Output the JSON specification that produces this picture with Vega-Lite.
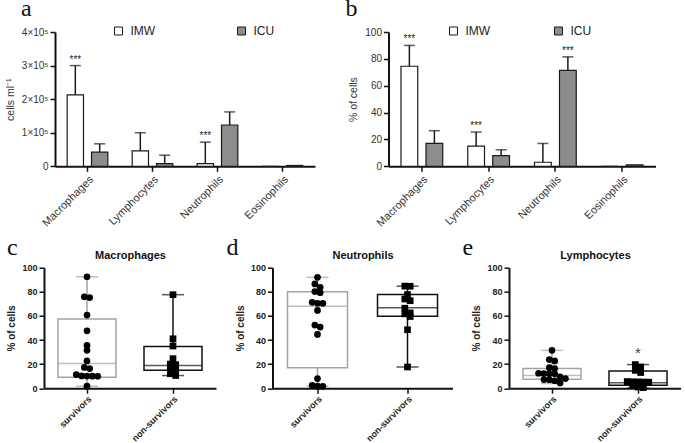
{
  "$schema": "https://vega.github.io/schema/vega-lite/v6.json",
  "background": "white",
  "padding": {"left": 5, "top": -3, "right": 0, "bottom": 0},
  "config": {
    "font": "Liberation Sans",
    "view": {"stroke": null},
    "axis": {"domainColor": "#111", "domainWidth": 2, "tickColor": "#111", "tickWidth": 1.5, "tickSize": 5, "labelColor": "#333", "titleColor": "#333", "grid": false, "labelFont": "Liberation Sans", "titleFont": "Liberation Sans", "labelOverlap": false, "labelBound": false},
    "title": {"font": "Liberation Serif", "fontSize": 24, "fontWeight": "normal", "color": "#111", "anchor": "start", "frame": "group", "offset": 0}
  },
  "datasets": {
    "counts": [
      {"cell": "Macrophages", "group": "IMW", "value": 213000, "err": 300000, "sig": "***"},
      {"cell": "Macrophages", "group": "ICU", "value": 42000, "err": 67000, "sig": ""},
      {"cell": "Lymphocytes", "group": "IMW", "value": 46000, "err": 100000, "sig": ""},
      {"cell": "Lymphocytes", "group": "ICU", "value": 8000, "err": 33000, "sig": ""},
      {"cell": "Neutrophils", "group": "IMW", "value": 8000, "err": 72000, "sig": "***"},
      {"cell": "Neutrophils", "group": "ICU", "value": 123000, "err": 162000, "sig": ""},
      {"cell": "Eosinophils", "group": "IMW", "value": 0, "err": null, "sig": ""},
      {"cell": "Eosinophils", "group": "ICU", "value": 2500, "err": null, "sig": ""}
    ],
    "pct": [
      {"cell": "Macrophages", "group": "IMW", "value": 74.5, "err": 90, "sig": "***"},
      {"cell": "Macrophages", "group": "ICU", "value": 17, "err": 26.5, "sig": ""},
      {"cell": "Lymphocytes", "group": "IMW", "value": 15, "err": 25.5, "sig": "***"},
      {"cell": "Lymphocytes", "group": "ICU", "value": 8, "err": 12.3, "sig": ""},
      {"cell": "Neutrophils", "group": "IMW", "value": 3, "err": 17, "sig": ""},
      {"cell": "Neutrophils", "group": "ICU", "value": 71.5, "err": 81.5, "sig": "***"},
      {"cell": "Eosinophils", "group": "IMW", "value": 0, "err": null, "sig": ""},
      {"cell": "Eosinophils", "group": "ICU", "value": 1, "err": null, "sig": ""}
    ],
    "box": [
      {"panel": "Macrophages", "group": "survivors", "min": 1.7, "q1": 9, "median": 20.5, "q3": 57.5, "max": 92.5, "sig": ""},
      {"panel": "Macrophages", "group": "non-survivors", "min": 10.5, "q1": 14.8, "median": 18.8, "q3": 34.7, "max": 77.6, "sig": ""},
      {"panel": "Neutrophils", "group": "survivors", "min": 1.7, "q1": 17, "median": 68, "q3": 80, "max": 92, "sig": ""},
      {"panel": "Neutrophils", "group": "non-survivors", "min": 17.6, "q1": 59.8, "median": 66.8, "q3": 77.8, "max": 84.7, "sig": ""},
      {"panel": "Lymphocytes", "group": "survivors", "min": 3.9, "q1": 7.4, "median": 10.5, "q3": 16.3, "max": 31.4, "sig": ""},
      {"panel": "Lymphocytes", "group": "non-survivors", "min": 0, "q1": 2.5, "median": 4.5, "q3": 14.3, "max": 19.6, "sig": "*"}
    ],
    "pts": [
      {"panel": "Macrophages", "group": "survivors", "value": 92.5},
      {"panel": "Macrophages", "group": "survivors", "value": 75.8},
      {"panel": "Macrophages", "group": "survivors", "value": 75.2},
      {"panel": "Macrophages", "group": "survivors", "value": 60.7},
      {"panel": "Macrophages", "group": "survivors", "value": 47.6},
      {"panel": "Macrophages", "group": "survivors", "value": 35.5},
      {"panel": "Macrophages", "group": "survivors", "value": 31.4},
      {"panel": "Macrophages", "group": "survivors", "value": 22.6},
      {"panel": "Macrophages", "group": "survivors", "value": 17.2},
      {"panel": "Macrophages", "group": "survivors", "value": 16.3},
      {"panel": "Macrophages", "group": "survivors", "value": 11.3},
      {"panel": "Macrophages", "group": "survivors", "value": 10.2},
      {"panel": "Macrophages", "group": "survivors", "value": 10.1},
      {"panel": "Macrophages", "group": "survivors", "value": 10},
      {"panel": "Macrophages", "group": "survivors", "value": 9.9},
      {"panel": "Macrophages", "group": "survivors", "value": 1.7},
      {"panel": "Macrophages", "group": "non-survivors", "value": 77.6},
      {"panel": "Macrophages", "group": "non-survivors", "value": 41},
      {"panel": "Macrophages", "group": "non-survivors", "value": 35},
      {"panel": "Macrophages", "group": "non-survivors", "value": 24.5},
      {"panel": "Macrophages", "group": "non-survivors", "value": 20},
      {"panel": "Macrophages", "group": "non-survivors", "value": 19.5},
      {"panel": "Macrophages", "group": "non-survivors", "value": 16},
      {"panel": "Macrophages", "group": "non-survivors", "value": 15.5},
      {"panel": "Macrophages", "group": "non-survivors", "value": 12},
      {"panel": "Macrophages", "group": "non-survivors", "value": 10.5},
      {"panel": "Neutrophils", "group": "survivors", "value": 92},
      {"panel": "Neutrophils", "group": "survivors", "value": 86.5},
      {"panel": "Neutrophils", "group": "survivors", "value": 83.7},
      {"panel": "Neutrophils", "group": "survivors", "value": 80.2},
      {"panel": "Neutrophils", "group": "survivors", "value": 79.3},
      {"panel": "Neutrophils", "group": "survivors", "value": 71.3},
      {"panel": "Neutrophils", "group": "survivors", "value": 70.5},
      {"panel": "Neutrophils", "group": "survivors", "value": 70.4},
      {"panel": "Neutrophils", "group": "survivors", "value": 64.5},
      {"panel": "Neutrophils", "group": "survivors", "value": 52.4},
      {"panel": "Neutrophils", "group": "survivors", "value": 50.7},
      {"panel": "Neutrophils", "group": "survivors", "value": 44.6},
      {"panel": "Neutrophils", "group": "survivors", "value": 8},
      {"panel": "Neutrophils", "group": "survivors", "value": 2.4},
      {"panel": "Neutrophils", "group": "survivors", "value": 1.7},
      {"panel": "Neutrophils", "group": "survivors", "value": 1.6},
      {"panel": "Neutrophils", "group": "non-survivors", "value": 84.7},
      {"panel": "Neutrophils", "group": "non-survivors", "value": 84.6},
      {"panel": "Neutrophils", "group": "non-survivors", "value": 77.7},
      {"panel": "Neutrophils", "group": "non-survivors", "value": 74},
      {"panel": "Neutrophils", "group": "non-survivors", "value": 72.6},
      {"panel": "Neutrophils", "group": "non-survivors", "value": 66.4},
      {"panel": "Neutrophils", "group": "non-survivors", "value": 62.5},
      {"panel": "Neutrophils", "group": "non-survivors", "value": 61.7},
      {"panel": "Neutrophils", "group": "non-survivors", "value": 59.5},
      {"panel": "Neutrophils", "group": "non-survivors", "value": 48.5},
      {"panel": "Neutrophils", "group": "non-survivors", "value": 17.6},
      {"panel": "Lymphocytes", "group": "survivors", "value": 31.4},
      {"panel": "Lymphocytes", "group": "survivors", "value": 23.8},
      {"panel": "Lymphocytes", "group": "survivors", "value": 22.6},
      {"panel": "Lymphocytes", "group": "survivors", "value": 17},
      {"panel": "Lymphocytes", "group": "survivors", "value": 16.3},
      {"panel": "Lymphocytes", "group": "survivors", "value": 12.4},
      {"panel": "Lymphocytes", "group": "survivors", "value": 12.1},
      {"panel": "Lymphocytes", "group": "survivors", "value": 12},
      {"panel": "Lymphocytes", "group": "survivors", "value": 11.9},
      {"panel": "Lymphocytes", "group": "survivors", "value": 9.4},
      {"panel": "Lymphocytes", "group": "survivors", "value": 8},
      {"panel": "Lymphocytes", "group": "survivors", "value": 7.2},
      {"panel": "Lymphocytes", "group": "survivors", "value": 7},
      {"panel": "Lymphocytes", "group": "survivors", "value": 6.2},
      {"panel": "Lymphocytes", "group": "survivors", "value": 4.4},
      {"panel": "Lymphocytes", "group": "non-survivors", "value": 19.6},
      {"panel": "Lymphocytes", "group": "non-survivors", "value": 17.6},
      {"panel": "Lymphocytes", "group": "non-survivors", "value": 14.8},
      {"panel": "Lymphocytes", "group": "non-survivors", "value": 13},
      {"panel": "Lymphocytes", "group": "non-survivors", "value": 5.5},
      {"panel": "Lymphocytes", "group": "non-survivors", "value": 5.3},
      {"panel": "Lymphocytes", "group": "non-survivors", "value": 5.2},
      {"panel": "Lymphocytes", "group": "non-survivors", "value": 5.1},
      {"panel": "Lymphocytes", "group": "non-survivors", "value": 5},
      {"panel": "Lymphocytes", "group": "non-survivors", "value": 2.4},
      {"panel": "Lymphocytes", "group": "non-survivors", "value": 1},
      {"panel": "Lymphocytes", "group": "non-survivors", "value": 0.5}
    ]
  },
  "bounds": "flush",
  "spacing": 235.7,
  "vconcat": [
    {
      "bounds": "flush",
      "spacing": 73.5,
      "resolve": {"scale": {"fill": "independent", "x": "independent", "y": "independent", "xOffset": "independent"}, "legend": {"fill": "independent"}},
      "hconcat": [
        {
          "width": 271,
          "height": 134.3,
          "title": {"text": "a", "dx": -23, "dy": 0},
          "data": {"name": "counts"},
          "layer": [
            {
              "mark": {"type": "bar", "stroke": "#1a1a1a", "strokeWidth": 1.2},
              "encoding": {
                "x": {"field": "cell", "type": "nominal", "sort": ["Macrophages", "Lymphocytes", "Neutrophils", "Eosinophils"], "scale": {"range": [11, 271], "paddingInner": 0, "paddingOuter": 0}, "axis": {"title": null, "labelAngle": -45, "labelFontSize": 11, "labelPadding": 2}},
                "xOffset": {"field": "group", "type": "nominal", "sort": ["IMW", "ICU"], "scale": {"paddingInner": 0.33, "paddingOuter": 0.5}},
                "y": {"field": "value", "type": "quantitative", "title": "cells ml⁻¹", "scale": {"domain": [0, 400000]}, "axis": {"values": [0, 100000, 200000, 300000, 400000], "tickCount": 20, "labelOverlap": false, "labelExpr": "datum.value == 0 ? '0' : format(datum.value/100000,'d') + '×10⁵'", "offset": -11, "titleFontSize": 10.5, "titleFontWeight": "normal", "labelFontSize": 10, "titlePadding": 6}},
                "fill": {"field": "group", "type": "nominal", "scale": {"domain": ["IMW", "ICU"], "range": ["#ffffff", "#8c8c8c"]}, "legend": {"orient": "none", "legendX": 68.5, "legendY": -7, "direction": "horizontal", "title": null, "symbolType": "square", "symbolSize": 64, "symbolStrokeColor": "#1a1a1a", "symbolStrokeWidth": 1, "labelFontSize": 12, "labelColor": "#222", "columnPadding": 80, "labelOffset": 6, "padding": 0}}
              }
            },
            {
              "transform": [{"filter": "isValid(datum.err)"}],
              "mark": {"type": "rule", "color": "#1a1a1a", "strokeWidth": 1.5},
              "encoding": {
                "x": {"field": "cell", "type": "nominal", "sort": ["Macrophages", "Lymphocytes", "Neutrophils", "Eosinophils"]},
                "xOffset": {"field": "group", "type": "nominal", "sort": ["IMW", "ICU"]},
                "y": {"field": "value", "type": "quantitative", "title": "cells ml⁻¹"},
                "y2": {"field": "err"}
              }
            },
            {
              "transform": [{"filter": "isValid(datum.err)"}],
              "mark": {"type": "tick", "color": "#1a1a1a", "thickness": 1.5, "size": 11},
              "encoding": {
                "x": {"field": "cell", "type": "nominal", "sort": ["Macrophages", "Lymphocytes", "Neutrophils", "Eosinophils"]},
                "xOffset": {"field": "group", "type": "nominal", "sort": ["IMW", "ICU"]},
                "y": {"field": "err", "type": "quantitative", "title": "cells ml⁻¹"}
              }
            },
            {
              "transform": [{"filter": "datum.sig != ''"}],
              "mark": {"type": "text", "baseline": "bottom", "fontSize": 10, "dy": -1, "color": "#222"},
              "encoding": {
                "x": {"field": "cell", "type": "nominal", "sort": ["Macrophages", "Lymphocytes", "Neutrophils", "Eosinophils"]},
                "xOffset": {"field": "group", "type": "nominal", "sort": ["IMW", "ICU"]},
                "y": {"field": "err", "type": "quantitative", "title": "cells ml⁻¹"},
                "text": {"field": "sig"}
              }
            }
          ]
        },
        {
          "width": 267,
          "height": 134.3,
          "title": {"text": "b", "dx": -43, "dy": 0},
          "data": {"name": "pct"},
          "layer": [
            {
              "mark": {"type": "bar", "stroke": "#1a1a1a", "strokeWidth": 1.2},
              "encoding": {
                "x": {"field": "cell", "type": "nominal", "sort": ["Macrophages", "Lymphocytes", "Neutrophils", "Eosinophils"], "scale": {"paddingInner": 0, "paddingOuter": 0}, "axis": {"title": null, "labelAngle": -45, "labelFontSize": 11, "labelPadding": 2}},
                "xOffset": {"field": "group", "type": "nominal", "sort": ["IMW", "ICU"], "scale": {"paddingInner": 0.33, "paddingOuter": 0.5}},
                "y": {"field": "value", "type": "quantitative", "title": "% of cells", "scale": {"domain": [0, 100]}, "axis": {"values": [0, 20, 40, 60, 80, 100], "tickCount": 20, "labelOverlap": false, "titleFontSize": 10.5, "titleFontWeight": "normal", "labelFontSize": 10, "titlePadding": 6}},
                "fill": {"field": "group", "type": "nominal", "scale": {"domain": ["IMW", "ICU"], "range": ["#ffffff", "#8c8c8c"]}, "legend": {"orient": "none", "legendX": 59, "legendY": -7, "direction": "horizontal", "title": null, "symbolType": "square", "symbolSize": 64, "symbolStrokeColor": "#1a1a1a", "symbolStrokeWidth": 1, "labelFontSize": 12, "labelColor": "#222", "columnPadding": 62, "labelOffset": 6, "padding": 0}}
              }
            },
            {
              "transform": [{"filter": "isValid(datum.err)"}],
              "mark": {"type": "rule", "color": "#1a1a1a", "strokeWidth": 1.5},
              "encoding": {
                "x": {"field": "cell", "type": "nominal", "sort": ["Macrophages", "Lymphocytes", "Neutrophils", "Eosinophils"]},
                "xOffset": {"field": "group", "type": "nominal", "sort": ["IMW", "ICU"]},
                "y": {"field": "value", "type": "quantitative", "title": "% of cells"},
                "y2": {"field": "err"}
              }
            },
            {
              "transform": [{"filter": "isValid(datum.err)"}],
              "mark": {"type": "tick", "color": "#1a1a1a", "thickness": 1.5, "size": 11},
              "encoding": {
                "x": {"field": "cell", "type": "nominal", "sort": ["Macrophages", "Lymphocytes", "Neutrophils", "Eosinophils"]},
                "xOffset": {"field": "group", "type": "nominal", "sort": ["IMW", "ICU"]},
                "y": {"field": "err", "type": "quantitative", "title": "% of cells"}
              }
            },
            {
              "transform": [{"filter": "datum.sig != ''"}],
              "mark": {"type": "text", "baseline": "bottom", "fontSize": 10, "dy": -1, "color": "#222"},
              "encoding": {
                "x": {"field": "cell", "type": "nominal", "sort": ["Macrophages", "Lymphocytes", "Neutrophils", "Eosinophils"]},
                "xOffset": {"field": "group", "type": "nominal", "sort": ["IMW", "ICU"]},
                "y": {"field": "err", "type": "quantitative", "title": "% of cells"},
                "text": {"field": "sig"}
              }
            }
          ]
        }
      ]
    },
    {
      "bounds": "flush",
      "spacing": 56.5,
      "resolve": {"scale": {"x": "independent", "y": "independent", "xOffset": "independent", "color": "independent", "stroke": "independent", "shape": "independent"}},
      "hconcat": [
        {
          "width": 172,
          "height": 120.5,
          "title": {"text": "c", "dx": -37, "dy": 14},
          "resolve": {"axis": {"x": "independent"}},
          "layer": [
            {
              "data": {"name": "box"},
              "transform": [{"filter": "datum.panel == 'Macrophages'"}],
              "mark": {"type": "rule", "strokeWidth": 1.5},
              "encoding": {
                "x": {"field": "group", "type": "nominal", "sort": ["survivors", "non-survivors"], "scale": {"paddingInner": 0, "paddingOuter": 0}, "axis": {"title": null, "labelAngle": -45, "labelFontSize": 9, "labelFontWeight": "bold", "labelColor": "#222", "labelPadding": 1}},
                "y": {"field": "min", "type": "quantitative", "title": "% of cells", "scale": {"domain": [0, 100]}, "axis": {"values": [0, 20, 40, 60, 80, 100], "tickCount": 20, "labelOverlap": false, "labelFontSize": 9, "labelFontWeight": "bold", "labelColor": "#222", "titleFontSize": 10, "titleFontWeight": "bold", "titleColor": "#222", "titlePadding": 5}},
                "y2": {"field": "max"},
                "color": {"field": "group", "type": "nominal", "scale": {"domain": ["survivors", "non-survivors"], "range": ["#a3a3a3", "#111111"]}, "legend": null}
              }
            },
            {
              "data": {"name": "box"},
              "transform": [{"filter": "datum.panel == 'Macrophages'"}],
              "mark": {"type": "bar", "fill": "white", "strokeWidth": 1.5, "size": 58},
              "encoding": {
                "x": {"field": "group", "type": "nominal", "sort": ["survivors", "non-survivors"], "axis": null},
                "y": {"field": "q1", "type": "quantitative", "title": "% of cells"},
                "y2": {"field": "q3"},
                "stroke": {"field": "group", "type": "nominal", "scale": {"domain": ["survivors", "non-survivors"], "range": ["#a3a3a3", "#111111"]}, "legend": null}
              }
            },
            {
              "data": {"name": "box"},
              "transform": [{"filter": "datum.panel == 'Macrophages'"}],
              "mark": {"type": "tick", "thickness": 1.5, "size": 58},
              "encoding": {
                "x": {"field": "group", "type": "nominal", "sort": ["survivors", "non-survivors"], "axis": null},
                "y": {"field": "median", "type": "quantitative", "title": "% of cells"},
                "color": {"field": "group", "type": "nominal", "legend": null}
              }
            },
            {
              "data": {"name": "box"},
              "transform": [{"filter": "datum.panel == 'Macrophages'"}, {"fold": ["min", "max"], "as": ["stat", "v"]}],
              "mark": {"type": "tick", "thickness": 1.5, "size": 22},
              "encoding": {
                "x": {"field": "group", "type": "nominal", "sort": ["survivors", "non-survivors"], "axis": null},
                "y": {"field": "v", "type": "quantitative", "title": "% of cells"},
                "color": {"field": "group", "type": "nominal", "legend": null}
              }
            },
            {
              "data": {"name": "pts"},
              "transform": [
                {"filter": "datum.panel == 'Macrophages'"},
                {"calculate": "round(datum.value/5)", "as": "bin"},
                {"window": [{"op": "row_number", "as": "i"}], "groupby": ["group", "bin"], "sort": [{"field": "value", "order": "descending"}]},
                {"joinaggregate": [{"op": "count", "as": "n"}], "groupby": ["group", "bin"]},
                {"calculate": "datum.i - (datum.n + 1) / 2", "as": "off"}
              ],
              "mark": {"type": "point", "filled": true, "size": 45, "opacity": 1, "color": "#000"},
              "encoding": {
                "x": {"field": "group", "type": "nominal", "sort": ["survivors", "non-survivors"], "axis": {"orient": "top", "title": "Macrophages", "labels": false, "ticks": false, "domain": false, "titleFontSize": 11, "titleFontWeight": "bold", "titleColor": "#111", "titlePadding": 7}},
                "xOffset": {"field": "off", "type": "quantitative", "scale": {"domain": [-8, 8]}},
                "y": {"field": "value", "type": "quantitative", "title": "% of cells"},
                "shape": {"field": "group", "type": "nominal", "scale": {"domain": ["survivors", "non-survivors"], "range": ["circle", "square"]}, "legend": null}
              }
            }
          ]
        },
        {
          "width": 180,
          "height": 120.5,
          "title": {"text": "d", "dx": -46, "dy": 14},
          "resolve": {"axis": {"x": "independent"}},
          "layer": [
            {
              "data": {"name": "box"},
              "transform": [{"filter": "datum.panel == 'Neutrophils'"}],
              "mark": {"type": "rule", "strokeWidth": 1.5},
              "encoding": {
                "x": {"field": "group", "type": "nominal", "sort": ["survivors", "non-survivors"], "scale": {"paddingInner": 0, "paddingOuter": 0}, "axis": {"title": null, "labelAngle": -45, "labelFontSize": 9, "labelFontWeight": "bold", "labelColor": "#222", "labelPadding": 1}},
                "y": {"field": "min", "type": "quantitative", "title": "% of cells", "scale": {"domain": [0, 100]}, "axis": {"values": [0, 20, 40, 60, 80, 100], "tickCount": 20, "labelOverlap": false, "labelFontSize": 9, "labelFontWeight": "bold", "labelColor": "#222", "titleFontSize": 10, "titleFontWeight": "bold", "titleColor": "#222", "titlePadding": 5}},
                "y2": {"field": "max"},
                "color": {"field": "group", "type": "nominal", "scale": {"domain": ["survivors", "non-survivors"], "range": ["#a3a3a3", "#111111"]}, "legend": null}
              }
            },
            {
              "data": {"name": "box"},
              "transform": [{"filter": "datum.panel == 'Neutrophils'"}],
              "mark": {"type": "bar", "fill": "white", "strokeWidth": 1.5, "size": 60},
              "encoding": {
                "x": {"field": "group", "type": "nominal", "sort": ["survivors", "non-survivors"], "axis": null},
                "y": {"field": "q1", "type": "quantitative", "title": "% of cells"},
                "y2": {"field": "q3"},
                "stroke": {"field": "group", "type": "nominal", "scale": {"domain": ["survivors", "non-survivors"], "range": ["#a3a3a3", "#111111"]}, "legend": null}
              }
            },
            {
              "data": {"name": "box"},
              "transform": [{"filter": "datum.panel == 'Neutrophils'"}],
              "mark": {"type": "tick", "thickness": 1.5, "size": 60},
              "encoding": {
                "x": {"field": "group", "type": "nominal", "sort": ["survivors", "non-survivors"], "axis": null},
                "y": {"field": "median", "type": "quantitative", "title": "% of cells"},
                "color": {"field": "group", "type": "nominal", "legend": null}
              }
            },
            {
              "data": {"name": "box"},
              "transform": [{"filter": "datum.panel == 'Neutrophils'"}, {"fold": ["min", "max"], "as": ["stat", "v"]}],
              "mark": {"type": "tick", "thickness": 1.5, "size": 22},
              "encoding": {
                "x": {"field": "group", "type": "nominal", "sort": ["survivors", "non-survivors"], "axis": null},
                "y": {"field": "v", "type": "quantitative", "title": "% of cells"},
                "color": {"field": "group", "type": "nominal", "legend": null}
              }
            },
            {
              "data": {"name": "pts"},
              "transform": [
                {"filter": "datum.panel == 'Neutrophils'"},
                {"calculate": "round(datum.value/5)", "as": "bin"},
                {"window": [{"op": "row_number", "as": "i"}], "groupby": ["group", "bin"], "sort": [{"field": "value", "order": "descending"}]},
                {"joinaggregate": [{"op": "count", "as": "n"}], "groupby": ["group", "bin"]},
                {"calculate": "datum.i - (datum.n + 1) / 2", "as": "off"}
              ],
              "mark": {"type": "point", "filled": true, "size": 45, "opacity": 1, "color": "#000"},
              "encoding": {
                "x": {"field": "group", "type": "nominal", "sort": ["survivors", "non-survivors"], "axis": {"orient": "top", "title": "Neutrophils", "labels": false, "ticks": false, "domain": false, "titleFontSize": 11, "titleFontWeight": "bold", "titleColor": "#111", "titlePadding": 7}},
                "xOffset": {"field": "off", "type": "quantitative", "scale": {"domain": [-8.4, 8.4]}},
                "y": {"field": "value", "type": "quantitative", "title": "% of cells"},
                "shape": {"field": "group", "type": "nominal", "scale": {"domain": ["survivors", "non-survivors"], "range": ["circle", "square"]}, "legend": null}
              }
            }
          ]
        },
        {
          "width": 172,
          "height": 120.5,
          "title": {"text": "e", "dx": -46.5, "dy": 14},
          "resolve": {"axis": {"x": "independent"}},
          "layer": [
            {
              "data": {"name": "box"},
              "transform": [{"filter": "datum.panel == 'Lymphocytes'"}],
              "mark": {"type": "rule", "strokeWidth": 1.5},
              "encoding": {
                "x": {"field": "group", "type": "nominal", "sort": ["survivors", "non-survivors"], "scale": {"paddingInner": 0, "paddingOuter": 0}, "axis": {"title": null, "labelAngle": -45, "labelFontSize": 9, "labelFontWeight": "bold", "labelColor": "#222", "labelPadding": 1}},
                "y": {"field": "min", "type": "quantitative", "title": "% of cells", "scale": {"domain": [0, 100]}, "axis": {"values": [0, 20, 40, 60, 80, 100], "tickCount": 20, "labelOverlap": false, "labelFontSize": 9, "labelFontWeight": "bold", "labelColor": "#222", "titleFontSize": 10, "titleFontWeight": "bold", "titleColor": "#222", "titlePadding": 5}},
                "y2": {"field": "max"},
                "color": {"field": "group", "type": "nominal", "scale": {"domain": ["survivors", "non-survivors"], "range": ["#a3a3a3", "#111111"]}, "legend": null}
              }
            },
            {
              "data": {"name": "box"},
              "transform": [{"filter": "datum.panel == 'Lymphocytes'"}],
              "mark": {"type": "bar", "fill": "white", "strokeWidth": 1.5, "size": 58},
              "encoding": {
                "x": {"field": "group", "type": "nominal", "sort": ["survivors", "non-survivors"], "axis": null},
                "y": {"field": "q1", "type": "quantitative", "title": "% of cells"},
                "y2": {"field": "q3"},
                "stroke": {"field": "group", "type": "nominal", "scale": {"domain": ["survivors", "non-survivors"], "range": ["#a3a3a3", "#111111"]}, "legend": null}
              }
            },
            {
              "data": {"name": "box"},
              "transform": [{"filter": "datum.panel == 'Lymphocytes'"}],
              "mark": {"type": "tick", "thickness": 1.5, "size": 58},
              "encoding": {
                "x": {"field": "group", "type": "nominal", "sort": ["survivors", "non-survivors"], "axis": null},
                "y": {"field": "median", "type": "quantitative", "title": "% of cells"},
                "color": {"field": "group", "type": "nominal", "legend": null}
              }
            },
            {
              "data": {"name": "box"},
              "transform": [{"filter": "datum.panel == 'Lymphocytes'"}, {"fold": ["min", "max"], "as": ["stat", "v"]}],
              "mark": {"type": "tick", "thickness": 1.5, "size": 22},
              "encoding": {
                "x": {"field": "group", "type": "nominal", "sort": ["survivors", "non-survivors"], "axis": null},
                "y": {"field": "v", "type": "quantitative", "title": "% of cells"},
                "color": {"field": "group", "type": "nominal", "legend": null}
              }
            },
            {
              "data": {"name": "box"},
              "transform": [{"filter": "datum.panel == 'Lymphocytes' && datum.sig != ''"}],
              "mark": {"type": "text", "baseline": "bottom", "fontSize": 15, "dy": -4, "color": "#444"},
              "encoding": {
                "x": {"field": "group", "type": "nominal", "sort": ["survivors", "non-survivors"], "axis": null},
                "y": {"field": "max", "type": "quantitative", "title": "% of cells"},
                "text": {"field": "sig"}
              }
            },
            {
              "data": {"name": "pts"},
              "transform": [
                {"filter": "datum.panel == 'Lymphocytes'"},
                {"calculate": "round(datum.value/5)", "as": "bin"},
                {"window": [{"op": "row_number", "as": "i"}], "groupby": ["group", "bin"], "sort": [{"field": "value", "order": "descending"}]},
                {"joinaggregate": [{"op": "count", "as": "n"}], "groupby": ["group", "bin"]},
                {"calculate": "datum.i - (datum.n + 1) / 2", "as": "off"}
              ],
              "mark": {"type": "point", "filled": true, "size": 45, "opacity": 1, "color": "#000"},
              "encoding": {
                "x": {"field": "group", "type": "nominal", "sort": ["survivors", "non-survivors"], "axis": {"orient": "top", "title": "Lymphocytes", "labels": false, "ticks": false, "domain": false, "titleFontSize": 11, "titleFontWeight": "bold", "titleColor": "#111", "titlePadding": 7}},
                "xOffset": {"field": "off", "type": "quantitative", "scale": {"domain": [-8, 8]}},
                "y": {"field": "value", "type": "quantitative", "title": "% of cells"},
                "shape": {"field": "group", "type": "nominal", "scale": {"domain": ["survivors", "non-survivors"], "range": ["circle", "square"]}, "legend": null}
              }
            }
          ]
        }
      ]
    }
  ]
}
